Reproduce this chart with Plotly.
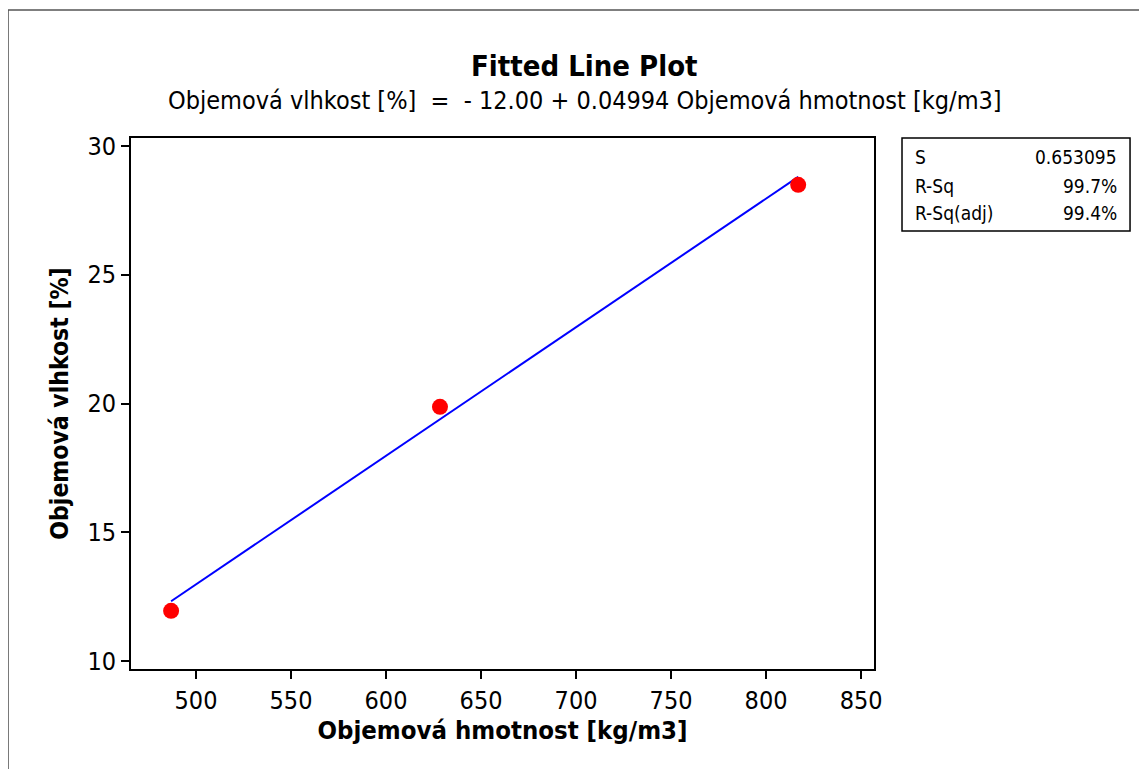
import plotly.graph_objects as go

hmotnost = [486.9, 628.4, 816.9]
vlhkost = [11.95, 19.87, 28.49]

# fitted line end points
fit_x = [486.9, 816.9]
fit_y = [12.32, 28.80]

stats_labels = ["S", "R-Sq", "R-Sq(adj)"]
stats_values = ["0.653095", "99.7%", "99.4%"]

x_ticks = [500, 550, 600, 650, 700, 750, 800, 850]
y_ticks = [10, 15, 20, 25, 30]

FONT = "DejaVu Sans Condensed, DejaVu Sans, sans-serif"

fig = go.Figure()
fig.add_trace(go.Scatter(x=fit_x, y=fit_y, mode="lines",
                         line=dict(color="#0000ff", width=2), showlegend=False))
fig.add_trace(go.Scatter(x=hmotnost, y=vlhkost, mode="markers",
                         marker=dict(color="#ff0000", size=16), showlegend=False))

axis_common = dict(showline=True, linecolor="black", linewidth=2, mirror=True,
                   ticks="outside", ticklen=8, tickwidth=2, tickcolor="black",
                   showgrid=False, zeroline=False,
                   tickfont=dict(family=FONT, size=25, color="black"))

fig.update_xaxes(range=[465.8, 856.8], tickvals=x_ticks, **axis_common,
                 title=dict(text="<b>Objemová hmotnost [kg/m3]</b>",
                            font=dict(family=FONT, size=25.5, color="black"), standoff=6))
fig.update_yaxes(range=[9.69, 30.31], tickvals=y_ticks, **axis_common,
                 title=dict(text="<b>Objemová vlhkost [%]</b>",
                            font=dict(family=FONT, size=24.5, color="black"), standoff=12))

fig.update_layout(
    width=1147, height=769,
    margin=dict(l=123, r=281, t=130, b=108),
    plot_bgcolor="white", paper_bgcolor="white",
    font=dict(family=FONT, color="black"),
)

# outer frame
fig.add_shape(type="rect", xref="paper", yref="paper", x0=-0.1655, x1=1.6,
              y0=-0.6, y1=1.241, line=dict(color="#555555", width=1.5))

# title and regression equation
fig.add_annotation(text="<b>Fitted Line Plot</b>", xref="paper", yref="paper",
                   x=0.6105, xanchor="center", y=1.135, yanchor="middle",
                   showarrow=False, font=dict(family=FONT, size=29))
fig.add_annotation(text="Objemová vlhkost [%]  =  - 12.00 + 0.04994 Objemová hmotnost [kg/m3]",
                   xref="paper", yref="paper", x=0.6105, xanchor="center",
                   y=1.071, yanchor="middle", showarrow=False,
                   font=dict(family=FONT, size=25))

# stats box
fig.add_shape(type="rect", xref="paper", yref="paper", x0=1.0377, x1=1.3446,
              y0=0.8249, y1=1.0, line=dict(color="black", width=1.5))
row_y = [0.9646, 0.9096, 0.8587]
for lab, val, ry in zip(stats_labels, stats_values, row_y):
    fig.add_annotation(text=lab, xref="paper", yref="paper", x=1.053, xanchor="left",
                       y=ry, yanchor="middle", showarrow=False,
                       font=dict(family=FONT, size=19))
    fig.add_annotation(text=val, xref="paper", yref="paper", x=1.330, xanchor="right",
                       y=ry, yanchor="middle", showarrow=False,
                       font=dict(family=FONT, size=19))

fig.write_html("out.html")
